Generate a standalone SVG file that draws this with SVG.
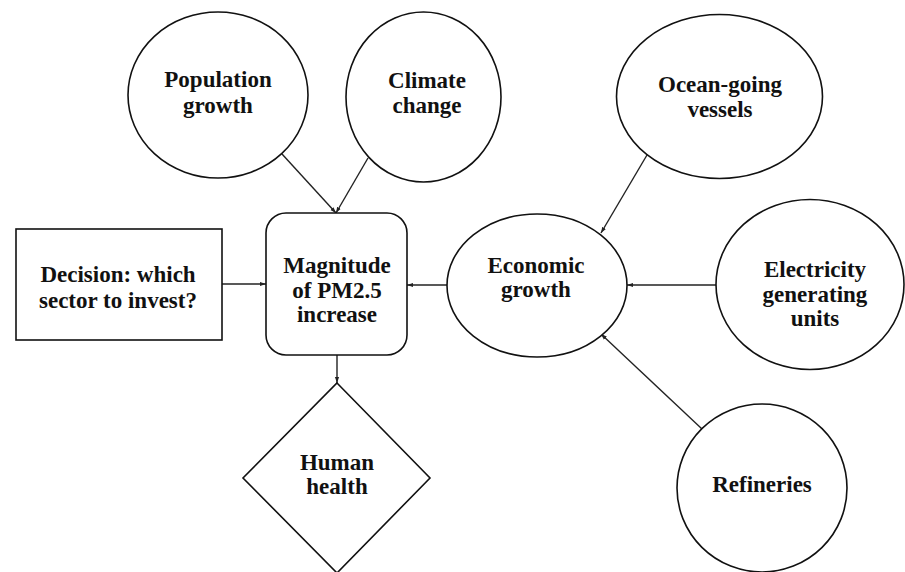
<svg xmlns="http://www.w3.org/2000/svg" width="905" height="572" viewBox="0 0 905 572">
<style>
.s{fill:#fff;stroke:#111;stroke-width:1.6}
.t{font-family:"Liberation Serif","Times New Roman",serif;font-weight:bold;font-size:23px;fill:#111;text-anchor:middle}
.c{stroke:#222;stroke-width:1.4;fill:none;marker-end:url(#a)}
</style>
<defs>
<marker id="a" viewBox="0 0 10 10" refX="10" refY="5" markerWidth="6" markerHeight="6" orient="auto" markerUnits="userSpaceOnUse">
<path d="M0,1.5 L10,5 L0,8.5 z" fill="#222"/>
</marker>
</defs>
<rect width="905" height="572" fill="#fff"/>
<g id="connectors">
<line class="c" x1="282" y1="154" x2="336" y2="213"/>
<line class="c" x1="368" y1="158" x2="336" y2="213"/>
<line class="c" x1="222" y1="284" x2="266" y2="284"/>
<line class="c" x1="447" y1="285" x2="407" y2="285"/>
<line class="c" x1="337" y1="355" x2="337" y2="383"/>
<line class="c" x1="647" y1="155" x2="601" y2="233"/>
<line class="c" x1="716" y1="285" x2="627" y2="285"/>
<line class="c" x1="702" y1="429" x2="601" y2="334"/>
</g>
<g id="population">
<ellipse class="s" cx="218" cy="95" rx="90" ry="83"/>
<text class="t" x="218" y="87">Population</text>
<text class="t" x="218" y="113">growth</text>
</g>
<g id="climate">
<ellipse class="s" cx="423.5" cy="97" rx="77.5" ry="85"/>
<text class="t" x="427" y="88">Climate</text>
<text class="t" x="427" y="113">change</text>
</g>
<g id="decision">
<rect class="s" x="16" y="229" width="206" height="111"/>
<text class="t" x="118" y="282">Decision: which</text>
<text class="t" x="118" y="308">sector to invest?</text>
</g>
<g id="magnitude">
<rect class="s" x="266" y="213" width="141" height="142" rx="20" ry="20"/>
<text class="t" x="337" y="273">Magnitude</text>
<text class="t" x="337" y="298">of PM2.5</text>
<text class="t" x="337" y="322">increase</text>
</g>
<g id="human">
<polygon class="s" points="337,383 430,478 337,573 243,478"/>
<text class="t" x="337" y="470">Human</text>
<text class="t" x="337" y="494">health</text>
</g>
<g id="ocean">
<ellipse class="s" cx="719.5" cy="96.5" rx="103" ry="82"/>
<text class="t" x="720" y="92">Ocean-going</text>
<text class="t" x="720" y="117">vessels</text>
</g>
<g id="economic">
<ellipse class="s" cx="537" cy="285.5" rx="90" ry="71.5"/>
<text class="t" x="536" y="273">Economic</text>
<text class="t" x="536" y="297">growth</text>
</g>
<g id="electricity">
<ellipse class="s" cx="810" cy="284.5" rx="94" ry="85"/>
<text class="t" x="815" y="277">Electricity</text>
<text class="t" x="815" y="302">generating</text>
<text class="t" x="815" y="326">units</text>
</g>
<g id="refineries">
<ellipse class="s" cx="762" cy="488" rx="85" ry="84"/>
<text class="t" x="762" y="492">Refineries</text>
</g>
</svg>
